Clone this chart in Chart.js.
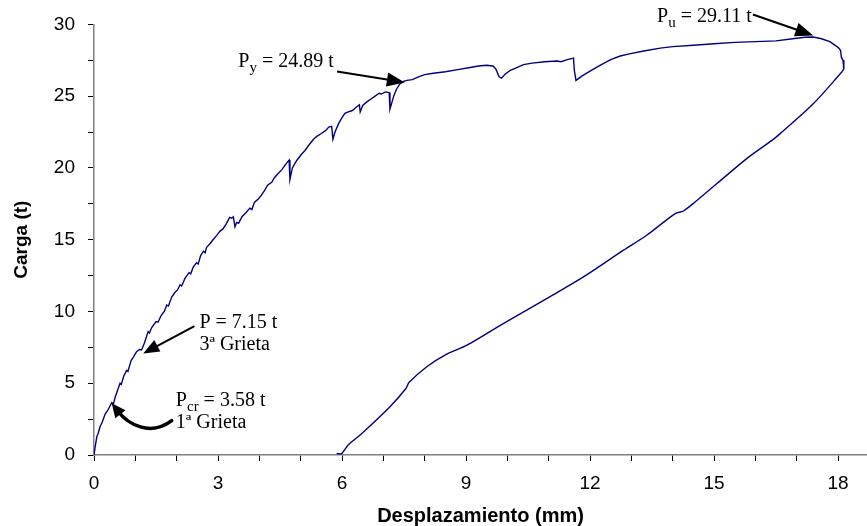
<!DOCTYPE html>
<html>
<head>
<meta charset="utf-8">
<script src="https://cdn.jsdelivr.net/npm/chart.js"></script>
<style>
  html, body { margin: 0; padding: 0; background: #fff; }
  #wrap { width: 867px; height: 526px; }
</style>
</head>
<body>
<div id="wrap"><canvas id="ensayo" width="867" height="526"></canvas></div>
<script>
// rama de carga (mm, t)
const cargaDesp = [
  0, 0.03, 0.07, 0.10, 0.15, 0.20, 0.27, 0.33, 0.43, 0.47, 0.52, 0.63, 0.66, 0.72, 0.79, 0.82,
  0.90, 0.95, 1.03, 1.10, 1.15, 1.22, 1.31, 1.34, 1.40, 1.50, 1.55, 1.62, 1.70, 1.76, 1.80, 1.88,
  1.95, 2.02, 2.08, 2.12, 2.20, 2.30, 2.34, 2.40, 2.48, 2.52, 2.58, 2.65, 2.69, 2.72, 2.80, 2.88,
  2.97, 3.05, 3.12, 3.20, 3.28, 3.33, 3.37, 3.41, 3.45, 3.50, 3.58, 3.68, 3.77, 3.82, 3.88, 3.98,
  4.05, 4.12, 4.20, 4.30, 4.36, 4.45, 4.55, 4.65, 4.72, 4.74, 4.80, 4.90, 4.98, 5.02, 5.10, 5.20,
  5.31, 5.39, 5.50, 5.60, 5.68, 5.75, 5.78, 5.83, 5.92, 6.00, 6.07, 6.15, 6.25, 6.35, 6.42, 6.44,
  6.50, 6.60, 6.70, 6.80, 6.90, 6.95, 7.05, 7.14, 7.16, 7.20, 7.25, 7.32, 7.40, 7.50, 7.57, 7.70,
  7.85, 8.00, 8.21, 8.50, 8.80, 9.10, 9.30, 9.50, 9.65, 9.72, 9.80, 9.86, 9.95, 10.07, 10.20, 10.39,
  10.60, 10.90, 11.20, 11.30, 11.45, 11.60, 11.62, 11.66, 11.80, 12.00, 12.24, 12.50, 12.73, 12.95,
  13.30, 13.70, 14.00, 14.50, 15.00, 15.50, 16.00, 16.50, 16.90, 17.20, 17.40, 17.60, 17.80, 18.00,
  18.06, 18.08, 18.12, 18.14, 18.09
];
const cargaFuerza = [
  0, 0.6, 1.3, 1.5, 2.0, 2.3, 2.85, 3.1, 3.65, 3.55, 4.1, 5.0, 4.92, 5.5, 5.9, 5.82,
  6.6, 6.8, 7.2, 7.35, 7.32, 7.8, 8.6, 8.5, 8.9, 9.3, 9.25, 9.7, 10.0, 10.45, 10.38, 11.0,
  11.3, 11.5, 11.85, 11.78, 12.3, 12.7, 12.62, 13.1, 13.4, 13.3, 13.9, 14.2, 14.1, 14.45, 14.7, 15.0,
  15.3, 15.6, 15.75, 16.1, 16.55, 16.5, 16.6, 15.9, 16.2, 16.15, 16.6, 16.9, 17.2, 17.1, 17.6, 17.85,
  18.1, 18.4, 18.8, 19.0, 19.3, 19.6, 19.9, 20.3, 20.55, 19.2, 20.0, 20.5, 20.8, 20.95, 21.2, 21.6,
  22.0, 22.2, 22.4, 22.6, 22.85, 22.9, 22.0, 22.5, 23.1, 23.5, 23.8, 23.9, 24.0, 24.25, 24.4, 23.9,
  24.35, 24.6, 24.8, 25.0, 25.2, 25.15, 25.3, 25.25, 24.1, 24.5, 25.0, 25.5, 25.85, 26.05, 26.1, 26.15,
  26.35, 26.5, 26.6, 26.7, 26.85, 27.0, 27.1, 27.15, 27.1, 26.9, 26.35, 26.25, 26.55, 26.8, 26.95, 27.2,
  27.3, 27.4, 27.45, 27.4, 27.55, 27.65, 26.8, 26.1, 26.4, 26.75, 27.15, 27.55, 27.8, 27.95,
  28.15, 28.35, 28.45, 28.55, 28.65, 28.75, 28.8, 28.85, 29.0, 29.1, 29.12, 29.0, 28.8, 28.4,
  28.2, 27.7, 27.5, 26.9, 26.68
];
// rama de descarga (mm, t)
const descargaDesp = [
  18.09, 17.40, 16.60, 16.40, 15.79, 15.07, 14.54, 14.26, 14.06, 13.37, 12.81, 11.84, 10.95,
  9.90, 9.02, 8.49, 8.05, 7.62, 7.55, 7.16, 6.48, 6.15, 5.99, 5.87
];
const descargaFuerza = [
  26.68, 24.47, 22.39, 21.92, 20.65, 18.91, 17.63, 17.0, 16.82, 15.31, 14.27, 12.41, 10.9,
  9.16, 7.65, 6.96, 6.15, 5.05, 4.65, 3.36, 1.5, 0.7, 0.1, 0.1
];

const xEtiquetas = [0, 3, 6, 9, 12, 15, 18];
const yEtiquetas = [0, 5, 10, 15, 20, 25, 30];

// notas: texto [trozo, subindice], posicion en mm / t
const notas = [
  { partes: [['P'], ['y', true], [' = 24.89 t']], x: 3.49, y: 27.0 },
  { partes: [['P'], ['u', true], [' = 29.11 t']], x: 13.62, y: 30.2 },
  { partes: [['P = 7.15 t']], x: 2.55, y: 8.84 },
  { partes: [['3ª Grieta']], x: 2.55, y: 7.31 },
  { partes: [['P'], ['cr', true], [' = 3.58 t']], x: 1.98, y: 3.41 },
  { partes: [['1ª Grieta']], x: 1.98, y: 1.86 }
];
const flechas = [
  { desde: [5.88, 26.72], hasta: [7.52, 25.96], largo: 18, ancho: 7 },
  { desde: [15.94, 30.69], hasta: [17.40, 29.23], largo: 18, ancho: 7 },
  { desde: [2.43, 8.98], hasta: [1.19, 7.08], largo: 16, ancho: 6.5 }
];
// flecha curva de la 1a grieta: inicio, control 1, control 2, punta
const flechaCurva = [[1.88, 2.39], [1.355, 1.25], [0.82, 2.16], [0.43, 3.6]];

const puntos = (xs, ys) => xs.map((v, i) => ({ x: v, y: ys[i] }));

function punta(ctx, x0, y0, x1, y1, len, half) {
  const a = Math.atan2(y1 - y0, x1 - x0);
  const c = Math.cos(a), s = Math.sin(a);
  ctx.beginPath();
  ctx.moveTo(x1, y1);
  ctx.lineTo(x1 - len * c + half * s, y1 - len * s - half * c);
  ctx.lineTo(x1 - len * c - half * s, y1 - len * s + half * c);
  ctx.closePath();
  ctx.fill();
}

const notasPlugin = {
  id: 'notas',
  afterDatasetsDraw(chart) {
    const { ctx, scales: { x, y } } = chart;
    const px = v => x.getPixelForValue(v);
    const py = v => y.getPixelForValue(v);
    ctx.save();
    ctx.fillStyle = '#000';
    ctx.strokeStyle = '#000';
    ctx.textBaseline = 'alphabetic';
    ctx.textAlign = 'left';

    notas.forEach(n => {
      let cx = px(n.x);
      const by = py(n.y);
      n.partes.forEach(([t, sub]) => {
        ctx.font = sub ? '15px "Liberation Serif", "Times New Roman", serif'
                       : '20px "Liberation Serif", "Times New Roman", serif';
        ctx.fillText(t, cx, sub ? by + 5 : by);
        cx += ctx.measureText(t).width;
      });
    });

    ctx.lineWidth = 2;
    flechas.forEach(f => {
      const x0 = px(f.desde[0]), y0 = py(f.desde[1]);
      const x1 = px(f.hasta[0]), y1 = py(f.hasta[1]);
      const a = Math.atan2(y1 - y0, x1 - x0);
      ctx.beginPath();
      ctx.moveTo(x0, y0);
      ctx.lineTo(x1 - (f.largo - 3) * Math.cos(a), y1 - (f.largo - 3) * Math.sin(a));
      ctx.stroke();
      punta(ctx, x0, y0, x1, y1, f.largo, f.ancho);
    });

    const c = flechaCurva.map(p => [px(p[0]), py(p[1])]);
    const a = Math.atan2(c[3][1] - c[2][1], c[3][0] - c[2][0]);
    ctx.lineWidth = 3.5;
    ctx.lineCap = 'round';
    ctx.beginPath();
    ctx.moveTo(c[0][0], c[0][1]);
    ctx.bezierCurveTo(c[1][0], c[1][1], c[2][0], c[2][1],
      c[3][0] - 10 * Math.cos(a), c[3][1] - 10 * Math.sin(a));
    ctx.stroke();
    punta(ctx, c[2][0], c[2][1], c[3][0], c[3][1], 14, 6.5);
    ctx.restore();
  }
};

const fuenteEje = { family: '"Liberation Sans", Arial, sans-serif', size: 19 };

new Chart(document.getElementById('ensayo'), {
  type: 'scatter',
  data: {
    datasets: [
      {
        data: puntos(cargaDesp, cargaFuerza),
        showLine: true,
        borderColor: '#000080',
        borderWidth: 1.4,
        pointRadius: 0,
        tension: 0
      },
      {
        data: puntos(descargaDesp, descargaFuerza),
        showLine: true,
        borderColor: '#000080',
        borderWidth: 1.4,
        pointRadius: 0,
        tension: 0.3
      }
    ]
  },
  options: {
    responsive: false,
    animation: false,
    layout: { padding: { top: 24, right: 0, left: 0, bottom: 0 } },
    plugins: { legend: { display: false }, tooltip: { enabled: false } },
    scales: {
      x: {
        type: 'linear',
        min: 0,
        max: 18.7,
        afterBuildTicks: s => { s.ticks = s.ticks.filter(t => Number.isInteger(t.value)); },
        afterFit: s => { s.height = 71; },
        ticks: {
          stepSize: 1,
          includeBounds: false,
          autoSkip: false,
          maxRotation: 0,
          padding: 11,
          color: '#000',
          font: fuenteEje,
          callback: v => xEtiquetas.includes(v) ? v : ''
        },
        grid: { drawOnChartArea: false, drawTicks: true, tickLength: 6, tickColor: '#000' },
        border: { display: true, color: '#808080', width: 1.5 },
        title: {
          display: true,
          text: 'Desplazamiento (mm)',
          color: '#000',
          font: { family: '"Liberation Sans", Arial, sans-serif', size: 20, weight: 'bold', lineHeight: 1 },
          padding: { top: 0, bottom: 0 }
        }
      },
      y: {
        min: 0,
        max: 30,
        afterFit: s => { s.width = 94; },
        ticks: {
          stepSize: 2.5,
          autoSkip: false,
          padding: 13,
          color: '#000',
          font: fuenteEje,
          callback: v => yEtiquetas.includes(v) ? v : ''
        },
        grid: { drawOnChartArea: false, drawTicks: true, tickLength: 6, tickColor: '#000' },
        border: { display: true, color: '#808080', width: 1.5 },
        title: {
          display: true,
          text: 'Carga (t)',
          color: '#000',
          font: { family: '"Liberation Sans", Arial, sans-serif', size: 19, weight: 'bold', lineHeight: 1 },
          padding: { top: 12, bottom: 0 }
        }
      }
    }
  },
  plugins: [notasPlugin]
});
</script>
</body>
</html>
